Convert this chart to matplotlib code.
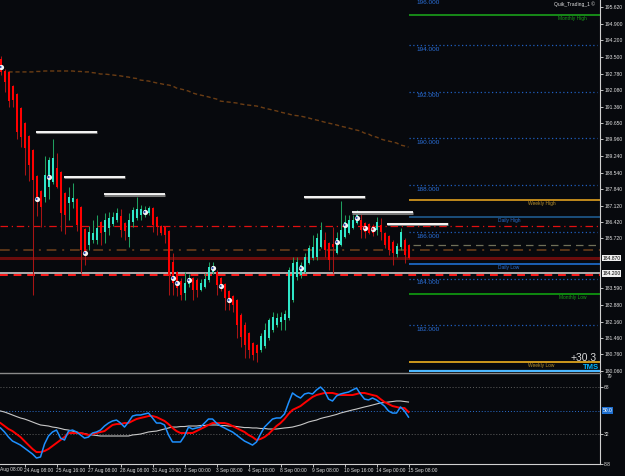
import numpy as np
import matplotlib
matplotlib.use("Agg")
import matplotlib.pyplot as plt
import matplotlib.transforms as mtransforms

plt.rcParams['font.family'] = ['Liberation Sans', 'DejaVu Sans']

# ---- H4 candles (bar 0 .. 102) ----
opens = [193.41, 192.89, 192.85, 192.25, 191.91, 191.31, 190.66, 190.11, 189.51, 188.39,
         187.75, 187.50, 187.92, 188.14, 188.74, 188.57, 187.67, 187.24, 187.28, 187.41,
         187.07, 186.12, 185.44, 185.65, 185.65, 186.42, 186.00, 186.17, 186.34, 186.51,
         186.68, 186.38, 185.78, 186.42, 186.60, 186.72, 186.77, 186.81, 187.02, 186.64,
         186.25, 186.21, 186.04, 184.71, 184.28, 183.90, 183.38, 183.77, 184.03, 183.94,
         183.51, 183.64, 183.94, 184.28, 184.28, 184.03, 183.77, 183.47, 183.26, 183.08,
         182.44, 182.01, 181.67, 181.24, 181.16, 180.94, 181.11, 181.46, 181.80, 182.01,
         182.14, 182.23, 182.31, 183.08, 184.07, 184.15, 184.28, 184.67, 184.88, 184.93,
         185.35, 185.65, 185.53, 185.48, 185.10, 185.44, 185.78, 185.95, 186.17, 186.38,
         186.51, 186.38, 186.34, 186.25, 186.08, 186.30, 185.95, 185.82, 185.57, 185.05,
         185.35, 185.65, 185.44]
highs = [193.53, 192.98, 192.89, 192.29, 191.95, 191.35, 190.71, 190.15, 189.55, 188.44,
         187.80, 189.25, 189.21, 189.98, 189.38, 188.61, 187.71, 187.92, 188.10, 187.45,
         187.11, 186.17, 186.25, 186.51, 186.72, 186.47, 186.81, 186.85, 186.85, 187.02,
         186.98, 186.42, 186.81, 187.07, 187.50, 187.15, 187.11, 187.11, 187.07, 186.68,
         186.30, 186.25, 186.08, 185.10, 184.33, 184.03, 184.28, 184.20, 184.07, 184.03,
         183.98, 184.24, 184.71, 184.71, 184.37, 184.07, 183.81, 183.51, 183.30, 183.13,
         182.53, 182.14, 181.71, 181.28, 181.20, 181.67, 182.10, 182.31, 182.57, 182.53,
         182.57, 182.66, 184.50, 184.93, 184.93, 184.71, 185.10, 185.44, 185.87, 185.95,
         186.42, 186.00, 185.57, 186.21, 186.00, 187.32, 186.72, 186.72, 186.72, 186.94,
         186.81, 186.42, 186.38, 186.34, 186.64, 186.60, 186.00, 185.87, 185.65, 185.53,
         186.17, 185.74, 185.48]
lows = [192.72, 191.99, 191.35, 191.35, 189.98, 189.64, 188.44, 188.18, 183.30, 186.68,
        186.21, 187.28, 187.41, 188.05, 187.88, 186.04, 185.91, 186.51, 187.02, 186.04,
        184.24, 184.58, 185.23, 185.53, 185.48, 185.44, 185.53, 185.87, 186.25, 186.42,
        185.78, 185.65, 185.35, 186.21, 186.51, 186.51, 186.64, 186.72, 186.00, 185.87,
        185.87, 185.53, 183.30, 183.30, 183.26, 183.08, 183.08, 183.64, 183.08, 183.21,
        183.47, 183.60, 183.85, 184.20, 183.30, 183.47, 182.66, 182.66, 182.57, 181.46,
        181.07, 180.60, 180.60, 180.51, 180.43, 180.86, 181.03, 181.37, 181.71, 181.93,
        181.80, 181.80, 182.23, 183.00, 183.94, 184.03, 184.24, 184.63, 184.80, 184.80,
        185.31, 184.93, 184.37, 184.24, 185.05, 185.40, 185.74, 185.91, 186.12, 186.34,
        185.74, 185.74, 185.91, 185.82, 185.87, 185.65, 185.31, 185.01, 184.58, 184.93,
        185.23, 184.67, 184.84]
closes = [192.85, 192.42, 191.61, 191.65, 190.28, 190.07, 189.59, 188.87, 188.22, 187.45,
          187.07, 188.44, 189.08, 189.17, 187.92, 186.81, 186.72, 187.50, 187.45, 186.30,
          185.23, 185.14, 186.00, 185.95, 186.17, 185.95, 186.51, 186.60, 186.64, 186.81,
          186.08, 186.04, 186.51, 186.94, 186.98, 186.98, 186.94, 187.02, 186.30, 186.21,
          185.95, 185.87, 184.15, 183.81, 183.60, 183.30, 183.81, 184.03, 183.51, 183.51,
          183.81, 183.98, 184.50, 184.54, 183.73, 183.60, 183.17, 182.96, 182.87, 182.01,
          181.50, 181.16, 180.94, 180.73, 180.81, 181.54, 181.80, 182.23, 182.36, 182.31,
          182.36, 182.48, 184.37, 184.67, 184.71, 184.58, 184.93, 185.31, 185.35, 185.74,
          186.08, 185.23, 184.80, 185.35, 185.74, 186.08, 186.42, 186.51, 186.51, 186.85,
          186.08, 186.00, 185.95, 185.95, 186.42, 186.00, 185.44, 185.23, 185.10, 185.40,
          186.00, 185.01, 184.88]

# moving average (starts at bar 2)
ma_start = 2
ma_values = [192.85, 192.85, 192.85, 192.85, 192.85, 192.85, 192.85, 192.87, 192.87, 192.89,
             192.89, 192.89, 192.89, 192.89, 192.89, 192.89, 192.89, 192.87, 192.87, 192.85,
             192.85, 192.82, 192.80, 192.76, 192.76, 192.74, 192.72, 192.70, 192.68, 192.65,
             192.63, 192.59, 192.57, 192.50, 192.48, 192.46, 192.42, 192.38, 192.35, 192.31,
             192.29, 192.25, 192.16, 192.12, 192.08, 192.03, 191.95, 191.90, 191.86, 191.82,
             191.78, 191.73, 191.69, 191.60, 191.58, 191.56, 191.54, 191.52, 191.48, 191.45,
             191.43, 191.41, 191.39, 191.35, 191.30, 191.26, 191.22, 191.18, 191.13, 191.09,
             191.05, 191.00, 190.98, 190.96, 190.92, 190.88, 190.83, 190.79, 190.75, 190.70,
             190.66, 190.62, 190.58, 190.53, 190.49, 190.45, 190.40, 190.36, 190.32, 190.23,
             190.19, 190.10, 190.06, 189.98, 189.93, 189.89, 189.85, 189.81, 189.72, 189.68,
             189.63]

# signal dots
dot_bars = [0, 9, 12, 21, 36, 43, 44, 47, 53, 55, 57, 75, 84, 86, 89, 91, 93]
dot_prices = [193.06, 187.41, 188.35, 185.10, 186.85, 184.03, 183.81, 183.94, 184.45, 183.68,
              183.08, 184.45, 185.57, 186.30, 186.60, 186.17, 186.12]
dot_centers = ['b', 'b', 'b', 'b', 'b', 'b', 'b', 'b', 'b', 'b',
               'b', 'b', 'b', 'b', 'b', 'r', 'r']

# white resistance segments
seg_start = [8.9, 15.9, 25.9, 75.9, 87.9, 96.6]
seg_end = [24.1, 31.1, 41.1, 91.1, 103.1, 111.9]
seg_price = [190.28, 188.35, 187.62, 187.50, 186.85, 186.34]

# levels
round_levels = [194, 192, 190, 188, 186, 184, 182]
round_labels = ["196.000", "194.000", "192.000", "190.000", "188.000", "186.000", "184.000", "182.000"]
pivot_names = ["Monthly High", "Weekly High", "Daily High", "Daily Low", "Monthly Low", "Weekly Low"]
pivot_prices = [195.29, 187.37, 186.64, 184.63, 183.34, 180.43]
pivot_colors = ['#1aa01a', '#e0a020', '#1f5a8e', '#1e6fd0', '#10a010', '#f0b020']
pivot_text_colors = ['#1a9c1a', '#b8902c', '#2a6fd0', '#2a6fd0', '#1a9c1a', '#b8902c']
pivot_label_x = [139.4, 131.9, 124.4, 124.4, 139.6, 131.9]

price_ticks = [195.62, 194.90, 194.20, 193.50, 192.78, 192.08, 191.36, 190.65, 189.96, 189.24,
               188.54, 187.84, 187.12, 186.42, 185.72, 183.59, 182.88, 182.16, 181.46, 180.76,
               180.06]

# oscillator (bar 0 .. 102)
osc_fast = [36.6, 33.5, 29.6, 26.5, 25.0, 23.4, 21.1, 18.8, 16.5, 13.4,
            14.2, 24.2, 30.4, 33.5, 35.0, 28.8, 27.3, 34.2, 35.0, 33.5,
            31.2, 28.8, 29.6, 32.7, 33.5, 35.0, 38.1, 40.4, 42.0, 42.7,
            40.4, 37.3, 41.2, 45.8, 46.6, 46.6, 47.4, 48.1, 44.3, 40.4,
            40.4, 38.9, 31.2, 25.8, 25.8, 25.8, 30.4, 37.3, 35.8, 36.6,
            37.3, 40.4, 43.5, 43.5, 40.4, 38.1, 36.6, 35.0, 33.5, 31.2,
            28.8, 26.5, 25.0, 23.4, 25.8, 31.9, 37.3, 40.4, 43.5, 44.3,
            44.3, 47.4, 55.9, 63.6, 61.3, 59.7, 62.8, 63.6, 62.8, 65.9,
            68.2, 65.1, 58.9, 57.4, 61.3, 62.8, 63.6, 64.3, 65.9, 67.4,
            62.8, 58.9, 58.2, 59.7, 58.2, 55.9, 53.5, 49.7, 48.1, 48.1,
            52.8, 49.7, 45.0]
osc_signal = [40.4, 38.1, 35.8, 34.2, 31.9, 29.6, 26.5, 23.4, 20.4, 18.0,
              18.0, 18.8, 20.4, 22.7, 25.0, 27.3, 29.6, 32.7, 32.7, 32.7,
              32.7, 31.9, 31.2, 31.9, 32.7, 33.5, 34.2, 36.6, 38.9, 39.6,
              39.6, 40.4, 40.4, 42.0, 43.5, 44.3, 45.0, 45.8, 45.8, 45.0,
              43.5, 42.0, 39.6, 36.6, 34.2, 32.7, 32.7, 32.7, 32.7, 34.2,
              35.8, 37.3, 38.9, 40.4, 40.4, 40.4, 40.4, 39.6, 38.1, 36.6,
              35.0, 33.5, 31.2, 29.6, 27.3, 28.1, 29.6, 31.9, 35.0, 38.1,
              40.4, 43.5, 47.4, 50.5, 52.0, 53.5, 55.9, 58.2, 60.5, 62.0,
              62.8, 63.6, 63.6, 63.6, 62.8, 62.0, 62.0, 62.0, 62.0, 62.8,
              63.6, 63.6, 62.8, 62.0, 61.3, 58.9, 56.6, 55.1, 53.5, 52.8,
              52.0, 52.0, 48.9]
osc_slow = [49.7, 48.9, 47.8, 46.6, 45.4, 44.3, 43.5, 42.4, 41.2, 40.0,
            38.9, 38.5, 38.1, 37.3, 36.9, 36.2, 35.4, 35.0, 34.2, 33.5,
            32.7, 32.3, 31.5, 31.2, 30.8, 30.4, 30.4, 30.4, 30.4, 30.4,
            30.4, 30.4, 30.4, 31.2, 31.5, 31.9, 32.7, 33.5, 33.9, 34.2,
            35.0, 35.8, 36.6, 37.3, 37.3, 37.7, 37.7, 38.1, 38.1, 38.1,
            38.5, 38.5, 38.9, 38.9, 38.9, 38.5, 38.5, 38.1, 38.1, 37.7,
            37.3, 36.9, 36.9, 36.6, 36.6, 36.2, 36.2, 35.8, 35.8, 35.8,
            36.2, 36.6, 36.9, 37.3, 38.1, 38.9, 40.0, 41.2, 42.0, 42.7,
            43.9, 44.7, 45.4, 46.2, 47.0, 48.1, 48.9, 49.7, 50.5, 51.2,
            52.0, 52.8, 53.5, 54.3, 55.1, 55.9, 56.2, 56.6, 57.0, 57.4,
            57.4, 57.0, 56.6]

time_ticks = [6, 14, 22, 30, 38, 46, 54, 62, 70, 78, 86, 94, 102]
time_labels = ["24 Aug 08:00", "25 Aug 16:00", "27 Aug 08:00", "28 Aug 08:00", "31 Aug 16:00",
               "2 Sep 00:00", "3 Sep 08:00", "4 Sep 16:00", "8 Sep 00:00", "9 Sep 08:00",
               "10 Sep 16:00", "14 Sep 00:00", "15 Sep 08:00"]

BG = '#07090d'
fig = plt.figure(figsize=(6.25, 4.76), dpi=100, facecolor=BG)
ax = fig.add_axes([0, 1 - 372 / 476, 0.96, 372 / 476])
ax2 = fig.add_axes([0, 1 - 464 / 476, 0.96, 91 / 476])
for a in (ax, ax2):
    a.set_facecolor(BG)
    for s in ('left', 'top', 'bottom'):
        a.spines[s].set_visible(False)
    a.spines['right'].set_color('#d0d0d0')
    a.set_xlim(-0.125, 149.875)

ax.set_ylim(180.0, 195.93)
n = len(opens)
x = np.arange(n)
o = np.array(opens); h = np.array(highs); l = np.array(lows); c = np.array(closes)
up = c >= o

# candles
ax.vlines(x[up], l[up], h[up], color='#1f9e5e', lw=0.75, zorder=3)
ax.vlines(x[~up], l[~up], h[~up], color='#a81414', lw=0.75, zorder=3)
ax.bar(x[up], (c - o)[up], bottom=o[up], width=0.5, color='#2fe6c8', lw=0, zorder=4)
ax.bar(x[~up], (o - c)[~up], bottom=c[~up], width=0.5, color='#ff0000', lw=0, zorder=4)

# moving average
ax.plot(np.arange(ma_start, ma_start + len(ma_values)), ma_values, color='#6b3d14',
        lw=1.0, ls=(0, (3, 2)), zorder=2)

# full width levels
ax.axhline(186.25, color='#e01010', lw=0.9, ls=(0, (6, 3, 1, 3)), zorder=2)
ax.axhline(185.23, color='#5a3518', lw=1.4, ls=(0, (5, 3, 1, 3)), zorder=2)
ax.axhline(184.88, color='#6a0c0c', lw=2.2, zorder=2)
ax.axhline(184.24, color='#d8d8d8', lw=1.1, zorder=2)
ax.axhline(184.15, color='#ff1a1a', lw=1.4, ls=(0, (4, 3)), zorder=2)
ax.hlines(185.44, 103, 149.9, color='#707058', lw=0.9, ls=(0, (6, 4)), zorder=2)

# round levels and pivots
ax.hlines(round_levels, 102, 149, color='#1f5fc0', lw=0.9, ls=(0, (1, 2)), zorder=2)
for lab, lev in zip(round_labels, [196] + round_levels):
    ax.text(104.0, lev - 0.07, lab, color='#2a6fd8', fontsize=4.6, va='top', ha='left')
for name, p, col, tcol, lx in zip(pivot_names, pivot_prices, pivot_colors,
                                  pivot_text_colors, pivot_label_x):
    ax.hlines(p, 102, 149.9, color=col, lw=1.2, zorder=2)
    ax.text(lx, p - 0.04, name, color=tcol, fontsize=3.5, va='top', ha='left')
ax.hlines(180.05, 102, 149.9, color='#4db8ff', lw=1.6, zorder=2)

# resistance segments
for s0, s1, p in zip(seg_start, seg_end, seg_price):
    ax.plot([s0, s1], [p - 0.02, p - 0.02], color='#7a7a7a', lw=2.2, zorder=5,
            solid_capstyle='butt')
    ax.plot([s0, s1], [p, p], color='#ffffff', lw=1.3, zorder=6, solid_capstyle='butt')

# dots
cen = ['#3050b0' if d == 'b' else '#c03048' for d in dot_centers]
ax.scatter(dot_bars, dot_prices, s=14, color='#f4f4f4', lw=0, zorder=7)
ax.scatter(dot_bars, dot_prices, s=2.5, color=cen, lw=0, zorder=8)

# texts
ax.text(148.5, 195.86, "Quik_Trading_1 \u00a9", color='#e0e0e0', fontsize=3.6, va='top', ha='right')
ax.text(149.0, 180.6, "+30.3", color='#d8d8d8', fontsize=7.5, va='center', ha='right')
ax.text(149.7, 180.2, "TMS", color='#00b4ff', fontsize=5.5, fontweight='bold', va='center', ha='right')

# right price scale
ax.yaxis.tick_right()
ax.set_yticks(price_ticks)
ax.set_yticklabels(["%.3f" % v for v in price_ticks])
ax.tick_params(axis='y', colors='#e0e0e0', labelsize=3.6, length=2, width=0.6, pad=1)
ax.set_xticks([])
tr = mtransforms.blended_transform_factory(ax.transAxes, ax.transData)
for v, txt in ((184.88, "184.870"), (184.22, "184.200")):
    ax.text(1.004, v, txt, transform=tr, fontsize=3.6,
            color='#000000', va='center', ha='left',
            bbox=dict(boxstyle='square,pad=0.15', fc='#f0f0f0', ec='none'))

# oscillator
ax2.set_ylim(8.8, 79)
ax2.axhline(68, color='#606060', lw=0.7, ls=(0, (1, 2)))
ax2.axhline(32, color='#606060', lw=0.7, ls=(0, (1, 2)))
ax2.axhline(50, color='#2a6fd0', lw=0.7, ls=(0, (1, 2)))
ax2.plot(x, osc_slow, color='#c8c8c8', lw=0.8, zorder=2)
ax2.plot(x, osc_signal, color='#ff0000', lw=1.4, zorder=3)
ax2.plot(x, osc_fast, color='#1e90ff', lw=1.1, zorder=4)
ax2.spines['bottom'].set_visible(True)
ax2.spines['bottom'].set_color('#d0d0d0')
ax2.yaxis.tick_right()
ax2.set_yticks([68, 32, 8.8])
ax2.set_yticklabels(["68", "32", "8.8"])
ax2.tick_params(axis='y', colors='#e0e0e0', labelsize=3.6, length=2, width=0.6, pad=1)
tr2 = mtransforms.blended_transform_factory(ax2.transAxes, ax2.transData)
ax2.text(1.012, 78.2, "79", transform=tr2, fontsize=3.6, color='#e0e0e0', va='top', ha='left')
ax2.text(1.004, 50, "50.0", transform=tr2, fontsize=3.6, color='#ffffff', va='center', ha='left',
         bbox=dict(boxstyle='square,pad=0.15', fc='#1e6fd0', ec='none'))
ax2.set_xticks(time_ticks)
ax2.set_xticklabels(time_labels, ha='left')
ax2.tick_params(axis='x', colors='#e0e0e0', labelsize=3.5, length=2, width=0.6, pad=1)
ax2.text(0.0, -0.035, "Aug 08:00", transform=ax2.transAxes,
         fontsize=3.5, color='#e0e0e0', va='top', ha='left', clip_on=False)

# separator between panels
fig.add_artist(plt.Line2D([0, 0.96], [1 - 372.5 / 476] * 2, color='#8a8a8a', lw=1.0))

fig.savefig('out.png', dpi=100, facecolor=BG)
